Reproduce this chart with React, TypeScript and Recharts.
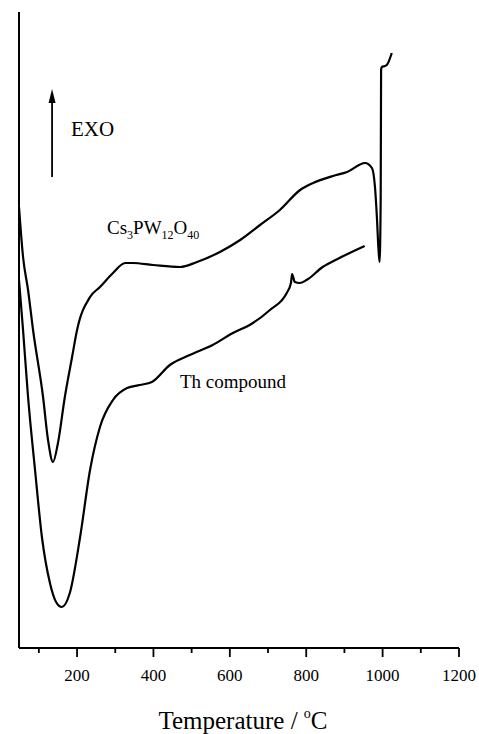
import React from "react";
import { LineChart, Line, XAxis, YAxis, ReferenceDot, ReferenceLine } from "recharts";

// Cs3PW12O40 DTA trace (temperature °C, signal in arbitrary units)
const csTemp = [48, 58.6, 71.7, 84.8, 111, 124, 137, 150, 168, 187, 200, 234, 260, 294, 326, 346, 399, 470, 514, 574, 627, 679, 731, 784, 818, 870, 907, 954, 972, 980, 985, 989, 992, 995, 996, 998, 1006, 1011, 1024];
const csSignal = [441, 391, 358, 318, 251, 208, 186, 205, 251, 291, 318, 351, 361, 375, 385, 385, 383, 381, 386, 396, 408, 423, 438, 458, 465, 472, 476, 485, 480, 461, 431, 400, 386, 450, 578, 581, 582, 583, 595];

// Th compound DTA trace
const thTemp = [48, 58.6, 71.7, 90, 108, 129, 145, 160, 181, 208, 234, 260, 294, 331, 364, 396, 443, 495, 555, 608, 652, 705, 749, 760, 763, 770, 783, 801, 843, 887, 953];
const thSignal = [368, 318, 251, 178, 111, 65, 46, 41, 55, 111, 178, 221, 248, 260, 263, 266, 283, 293, 303, 315, 323, 338, 355, 365, 374, 366, 365, 368, 381, 390, 402];

const xTicks = [100, 200, 300, 400, 500, 600, 700, 800, 900, 1000, 1100, 1200];

const csData = csTemp.map((t, i) => ({ t, v: csSignal[i] }));
const thData = thTemp.map((t, i) => ({ t, v: thSignal[i] }));

const FONT = "'Liberation Serif', 'Times New Roman', serif";

const XTick = (props: any) => {
  const { x, y, payload } = props;
  const major = payload.value % 200 === 0;
  return (
    <g>
      <line x1={x} x2={x} y1={y} y2={y + (major ? 9 : 5)} stroke="#000" strokeWidth={1.8} />
      {major && (
        <text x={x} y={y + 33} textAnchor="middle" fontSize={17} fontFamily={FONT} fill="#000">
          {payload.value}
        </text>
      )}
    </g>
  );
};

const AxisTitle = (props: any) => {
  const vb = props.viewBox || {};
  const cx = vb.x + vb.width / 2 + 4;
  const by = vb.y + 81;
  return (
    <text x={cx} y={by} textAnchor="middle" fontSize={25} fontFamily={FONT} fill="#000">
      <tspan>Temperature / </tspan>
      <tspan fontSize={14} dy={-11}>o</tspan>
      <tspan dy={11}>C</tspan>
    </text>
  );
};

const ArrowLabel = (props: any) => {
  const { x, y } = props.viewBox;
  return (
    <g>
      <line x1={x} x2={x} y1={y} y2={y - 78} stroke="#000" strokeWidth={1.8} />
      <polygon points={`${x},${y - 88} ${x - 3.5},${y - 74} ${x + 3.5},${y - 74}`} fill="#000" />
    </g>
  );
};

const ExoLabel = (props: any) => {
  const { x, y } = props.viewBox;
  return (
    <text x={x} y={y} fontSize={21} fontFamily={FONT} fill="#000">EXO</text>
  );
};

const CsLabel = (props: any) => {
  const { x, y } = props.viewBox;
  return (
    <text x={x} y={y} fontSize={19} fontFamily={FONT} fill="#000">
      <tspan>Cs</tspan>
      <tspan fontSize={12} dy={5}>3</tspan>
      <tspan dy={-5}>PW</tspan>
      <tspan fontSize={12} dy={5}>12</tspan>
      <tspan dy={-5}>O</tspan>
      <tspan fontSize={12} dy={5}>40</tspan>
    </text>
  );
};

const ThLabel = (props: any) => {
  const { x, y } = props.viewBox;
  return (
    <text x={x} y={y} fontSize={19} fontFamily={FONT} fill="#000">Th compound</text>
  );
};

export default function App() {
  return (
    <div style={{ position: "absolute", left: 0, top: 0, width: 479, height: 734, background: "#fff" }}>
      <LineChart width={479} height={734} margin={{ top: 12, right: 20, bottom: 0, left: 19 }}>
        <XAxis
          type="number"
          dataKey="t"
          domain={[48, 1200]}
          allowDataOverflow
          ticks={xTicks}
          interval={0}
          height={86}
          axisLine={{ stroke: "#000", strokeWidth: 2 }}
          tickLine={false}
          tickSize={0}
          tickMargin={0}
          tick={<XTick />}
          label={{ content: <AxisTitle /> }}
        />
        <YAxis type="number" domain={[0, 636]} allowDataOverflow hide />
        <ReferenceLine x={48} stroke="#000" strokeWidth={2} />
        <Line data={csData} dataKey="v" type="monotone" stroke="#000" strokeWidth={2.2} dot={false} isAnimationActive={false} />
        <Line data={thData} dataKey="v" type="monotone" stroke="#000" strokeWidth={2.2} dot={false} isAnimationActive={false} />
        <ReferenceDot x={134.6} y={471} r={0} stroke="none" fill="none" label={{ content: <ArrowLabel /> }} />
        <ReferenceDot x={184} y={512} r={0} stroke="none" fill="none" label={{ content: <ExoLabel /> }} />
        <ReferenceDot x={278.5} y={414} r={0} stroke="none" fill="none" label={{ content: <CsLabel /> }} />
        <ReferenceDot x={469.6} y={260} r={0} stroke="none" fill="none" label={{ content: <ThLabel /> }} />
      </LineChart>
    </div>
  );
}
